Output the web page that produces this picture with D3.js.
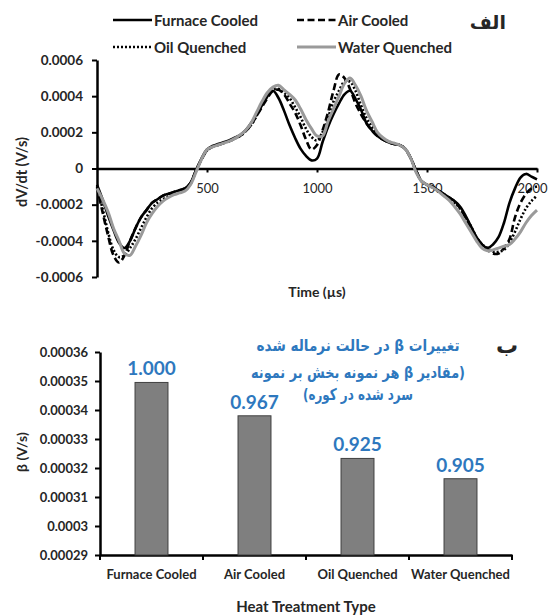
<!DOCTYPE html>
<html>
<head>
<meta charset="utf-8">
<script src="https://cdn.jsdelivr.net/npm/d3@7"></script>
<style>
  body { margin: 0; background: #fff; }
  svg text { font-family: Lato, "DejaVu Sans", sans-serif; fill: #262626; }
</style>
</head>
<body>
<div class="canvas"></div>
<script>
// ---- data: top chart (dV/dt in units of 1e-4 V/s, sampled every 25 us) ----
const timeGrid = d3.range(0, 2001, 25); // 0,25,...,2000
const seriesNames = ['Furnace Cooled', 'Air Cooled', 'Oil Quenched', 'Water Quenched'];

const furnaceCooled = [
  -0.9, -1.7, -2.6, -3.4, -4.1, -4.4, -4.0, -3.3,
  -2.7, -2.3, -1.9, -1.7, -1.5, -1.4, -1.3, -1.2,
  -1.1, -0.8, -0.1, 0.55, 1.05, 1.25, 1.35, 1.45,
  1.55, 1.7, 1.85, 2.1, 2.5, 3.0, 3.5, 4.0,
  4.3, 3.9, 3.2, 2.4, 1.7, 1.1, 0.7, 0.45,
  0.55, 1.45, 2.3, 3.0, 3.6, 4.1, 4.3, 3.85,
  3.25, 2.5, 2.1, 1.8, 1.6, 1.45, 1.35, 1.3,
  1.1, 0.6, -0.1, -0.7, -0.9, -1.0, -1.2, -1.4,
  -1.6, -1.8, -2.1, -2.6, -3.2, -3.8, -4.2, -4.4,
  -4.2, -3.8, -3.0, -1.9, -1.1, -0.5, -0.3, -0.45,
  -0.6
];
const airCooled = [
  -1.0, -2.4, -3.7, -4.8, -5.2, -4.8, -4.0, -3.3,
  -2.7, -2.3, -1.9, -1.7, -1.5, -1.4, -1.3, -1.2,
  -1.1, -0.8, -0.1, 0.5, 1.0, 1.2, 1.3, 1.4,
  1.5, 1.65, 1.8, 2.05, 2.4, 2.9, 3.4, 3.9,
  4.3, 4.35, 4.1, 3.6, 3.1, 2.4, 1.6, 1.05,
  1.3, 2.1, 3.1, 4.3, 5.2, 5.0, 4.4, 3.6,
  3.0, 2.5, 2.1, 1.8, 1.6, 1.45, 1.35, 1.3,
  1.1, 0.6, -0.1, -0.7, -0.9, -1.0, -1.2, -1.4,
  -1.6, -1.8, -2.2, -2.7, -3.3, -3.8, -4.2, -4.5,
  -4.7, -4.7, -4.4, -3.9, -2.7, -1.9, -1.4, -1.1,
  -1.0
];
const oilQuenched = [
  -1.1, -2.2, -3.5, -4.5, -4.9, -4.8, -4.4, -3.9,
  -3.3, -2.7, -2.2, -1.9, -1.7, -1.55, -1.4, -1.3,
  -1.2, -0.85, -0.15, 0.5, 1.0, 1.2, 1.3, 1.4,
  1.5, 1.65, 1.8, 2.05, 2.4, 2.9, 3.5, 4.0,
  4.35, 4.4, 4.2, 3.9, 3.4, 2.85, 2.2, 1.75,
  1.55, 2.0, 2.8, 3.7, 4.3, 4.8, 4.8, 4.3,
  3.5, 2.8, 2.3, 1.9, 1.65, 1.5, 1.4, 1.3,
  1.1, 0.6, -0.15, -0.7, -0.9, -1.05, -1.25, -1.45,
  -1.65, -1.9, -2.2, -2.7, -3.2, -3.8, -4.2, -4.4,
  -4.6, -4.6, -4.5, -4.1, -3.5, -2.8, -2.2, -1.8,
  -1.5
];
const waterQuenched = [
  -1.1, -1.7, -2.4, -3.3, -4.0, -4.7, -4.8, -4.3,
  -3.7, -3.0, -2.5, -2.1, -1.8, -1.6, -1.45, -1.35,
  -1.25, -0.9, -0.2, 0.5, 1.05, 1.2, 1.3, 1.4,
  1.5, 1.65, 1.85, 2.1, 2.5, 3.1, 3.7, 4.2,
  4.5, 4.6, 4.35, 4.1, 3.8, 3.3, 2.7, 2.2,
  1.8, 1.8, 2.6, 3.3, 4.0, 4.7, 5.0, 4.6,
  4.0, 3.2, 2.6, 2.0, 1.7, 1.5, 1.4, 1.3,
  1.1, 0.6, -0.2, -0.7, -0.9, -1.05, -1.25, -1.5,
  -1.75, -2.1, -2.5, -3.0, -3.5, -4.0, -4.4, -4.55,
  -4.5, -4.4, -4.3, -4.2, -3.9, -3.5, -3.0, -2.6,
  -2.3
];
const topYTicks = [-6, -4, -2, 0, 2, 4, 6];        // x 1e-4
const topXTicks = [500, 1000, 1500, 2000];

// ---- data: bottom chart ----
const categories = ['Furnace Cooled', 'Air Cooled', 'Oil Quenched', 'Water Quenched'];
const betaValues = [0.0003495, 0.000338, 0.0003233, 0.0003163];
const ratioLabels = ['1.000', '0.967', '0.925', '0.905'];
const bottomYTicks = [0.00029, 0.0003, 0.00031, 0.00032, 0.00033, 0.00034, 0.00035, 0.00036];
const noteLines = ['تغییرات β در حالت نرماله شده', '(مقادیر  β هر نمونه بخش بر نمونه', 'سرد شده در کوره)'];

const blue = '#2E78BE';

const svg = d3.select('.canvas').append('svg')
  .attr('width', 548).attr('height', 616);

// ================= top chart =================
const x = d3.scaleLinear().domain([0, 2000]).range([97, 537]);
const y = d3.scaleLinear().domain([-6, 6]).range([277, 60]);

const yAxisTop = d3.axisLeft(y)
  .tickValues(topYTicks)
  .tickSize(5).tickSizeOuter(0).tickPadding(9)
  .tickFormat(d => d === 0 ? '0' : (d * 1e-4).toFixed(4));
const yG = svg.append('g').attr('transform', 'translate(97,0)').call(yAxisTop);
yG.selectAll('text').style('font-size', '13.5px').style('font-weight', 700);

const xAxisTop = d3.axisBottom(x)
  .tickValues(topXTicks)
  .tickSize(4).tickSizeOuter(0).tickPadding(11)
  .tickFormat(d => String(d));
const xG = svg.append('g').attr('transform', `translate(0,${y(0)})`).call(xAxisTop);
xG.selectAll('text').style('font-size', '13px')
  .attr('dx', d => d === 2000 ? -5 : 0); // keep last label inside the window

[yG, xG].forEach(g => {
  g.select('.domain').attr('stroke', '#000').attr('stroke-width', 2.5);
  g.selectAll('.tick line').attr('stroke', '#000').attr('stroke-width', 2);
});

const seriesData = [furnaceCooled, airCooled, oilQuenched, waterQuenched];
const seriesStyle = [
  { color: '#000', dash: null, width: 2.6 },
  { color: '#000', dash: '7,3.5', width: 2.6 },
  { color: '#000', dash: '2,2', width: 2.6 },
  { color: '#9a9a9a', dash: null, width: 3 }
];

const line = d3.line()
  .x((d, i) => x(timeGrid[i]))
  .y(d => y(d))
  .curve(d3.curveCatmullRom.alpha(0.5));

svg.append('g').selectAll('path')
  .data(seriesData)
  .enter().append('path')
  .attr('fill', 'none')
  .attr('stroke', (d, i) => seriesStyle[i].color)
  .attr('stroke-width', (d, i) => seriesStyle[i].width)
  .attr('stroke-dasharray', (d, i) => seriesStyle[i].dash)
  .attr('d', line);

// axis titles
svg.append('text')
  .attr('transform', 'translate(27,172) rotate(-90)')
  .attr('text-anchor', 'middle')
  .style('font-size', '14.5px').style('font-weight', 700)
  .text('dV/dt (V/s)');
svg.append('text')
  .attr('x', 317).attr('y', 297)
  .attr('text-anchor', 'middle')
  .style('font-size', '14px').style('font-weight', 700)
  .text('Time (µs)');

// legend
const legendPos = [[113, 20], [297, 20], [113, 47], [297, 47]];
const legend = svg.append('g').selectAll('g')
  .data(seriesNames)
  .enter().append('g')
  .attr('transform', (d, i) => `translate(${legendPos[i][0]},${legendPos[i][1]})`);
legend.append('line')
  .attr('x1', 0).attr('x2', 39).attr('y1', 0).attr('y2', 0)
  .attr('stroke', (d, i) => seriesStyle[i].color)
  .attr('stroke-width', (d, i) => seriesStyle[i].width)
  .attr('stroke-dasharray', (d, i) => seriesStyle[i].dash);
legend.append('text')
  .attr('x', 41).attr('y', 5.5)
  .style('font-size', '15px').style('font-weight', 700)
  .text(d => d);

svg.append('text')
  .attr('x', 506).attr('y', 29)
  .attr('text-anchor', 'end')
  .style('font-family', '"DejaVu Sans", sans-serif')
  .style('font-size', '19px').style('font-weight', 700)
  .text('الف');

// ================= bottom chart =================
const xb = d3.scaleBand().domain(categories).range([100, 512])
  .paddingInner(0.68).paddingOuter(0.34);
const yb = d3.scaleLinear().domain([0.00029, 0.00036]).range([555, 352]);

const ybAxis = d3.axisLeft(yb)
  .tickValues(bottomYTicks)
  .tickSize(5).tickSizeOuter(0).tickPadding(7)
  .tickFormat(d => String(+d.toFixed(5)));
const ybG = svg.append('g').attr('transform', 'translate(100,0)').call(ybAxis);
ybG.selectAll('text').style('font-size', '13px').style('font-weight', 700);

const xbAxis = d3.axisBottom(xb).tickSize(0).tickSizeOuter(0).tickPadding(15);
const xbG = svg.append('g').attr('transform', 'translate(0,555)').call(xbAxis);
xbG.selectAll('text').style('font-size', '13px').style('font-weight', 700);

[ybG, xbG].forEach(g => {
  g.select('.domain').attr('stroke', '#000').attr('stroke-width', 2.5);
  g.selectAll('.tick line').attr('stroke', '#000').attr('stroke-width', 2);
});

// category boundary ticks
const step = xb.step();
svg.append('g').selectAll('line')
  .data(categories.concat(['end']))
  .enter().append('line')
  .attr('x1', (d, i) => xb.range()[0] + i * step)
  .attr('x2', (d, i) => xb.range()[0] + i * step)
  .attr('y1', 555).attr('y2', 560)
  .attr('stroke', '#000').attr('stroke-width', 2);

svg.append('g').selectAll('rect')
  .data(betaValues)
  .enter().append('rect')
  .attr('x', (d, i) => xb(categories[i]))
  .attr('width', xb.bandwidth())
  .attr('y', d => yb(d))
  .attr('height', d => 555 - yb(d))
  .attr('fill', '#7f7f7f')
  .attr('stroke', '#404040').attr('stroke-width', 1);

svg.append('g').selectAll('text')
  .data(betaValues)
  .enter().append('text')
  .attr('x', (d, i) => xb(categories[i]) + xb.bandwidth() / 2)
  .attr('y', d => yb(d) - 7)
  .attr('text-anchor', 'middle')
  .style('font-size', '19px').style('font-weight', 700)
  .style('fill', blue)
  .text((d, i) => ratioLabels[i]);

svg.append('text')
  .attr('transform', 'translate(27,452) rotate(-90)')
  .attr('text-anchor', 'middle')
  .style('font-size', '14px').style('font-weight', 700)
  .text('β (V/s)');
svg.append('text')
  .attr('x', 306).attr('y', 612)
  .attr('text-anchor', 'middle')
  .style('font-size', '15px').style('font-weight', 700)
  .text('Heat Treatment Type');

// persian note
const noteY = [351, 378, 400];
const noteWidth = [203, 214, 110];
svg.append('g').selectAll('text')
  .data(noteLines)
  .enter().append('text')
  .attr('x', 358).attr('y', (d, i) => noteY[i])
  .attr('text-anchor', 'middle')
  .attr('direction', 'rtl')
  .attr('textLength', (d, i) => noteWidth[i])
  .attr('lengthAdjust', 'spacingAndGlyphs')
  .style('font-family', '"DejaVu Sans", sans-serif')
  .style('font-size', '16px').style('font-weight', 700)
  .style('fill', blue)
  .text(d => d);

svg.append('text')
  .attr('x', 518).attr('y', 353)
  .attr('text-anchor', 'end')
  .style('font-family', '"DejaVu Sans", sans-serif')
  .style('font-size', '22px').style('font-weight', 700)
  .text('ب');
</script>
</body>
</html>
